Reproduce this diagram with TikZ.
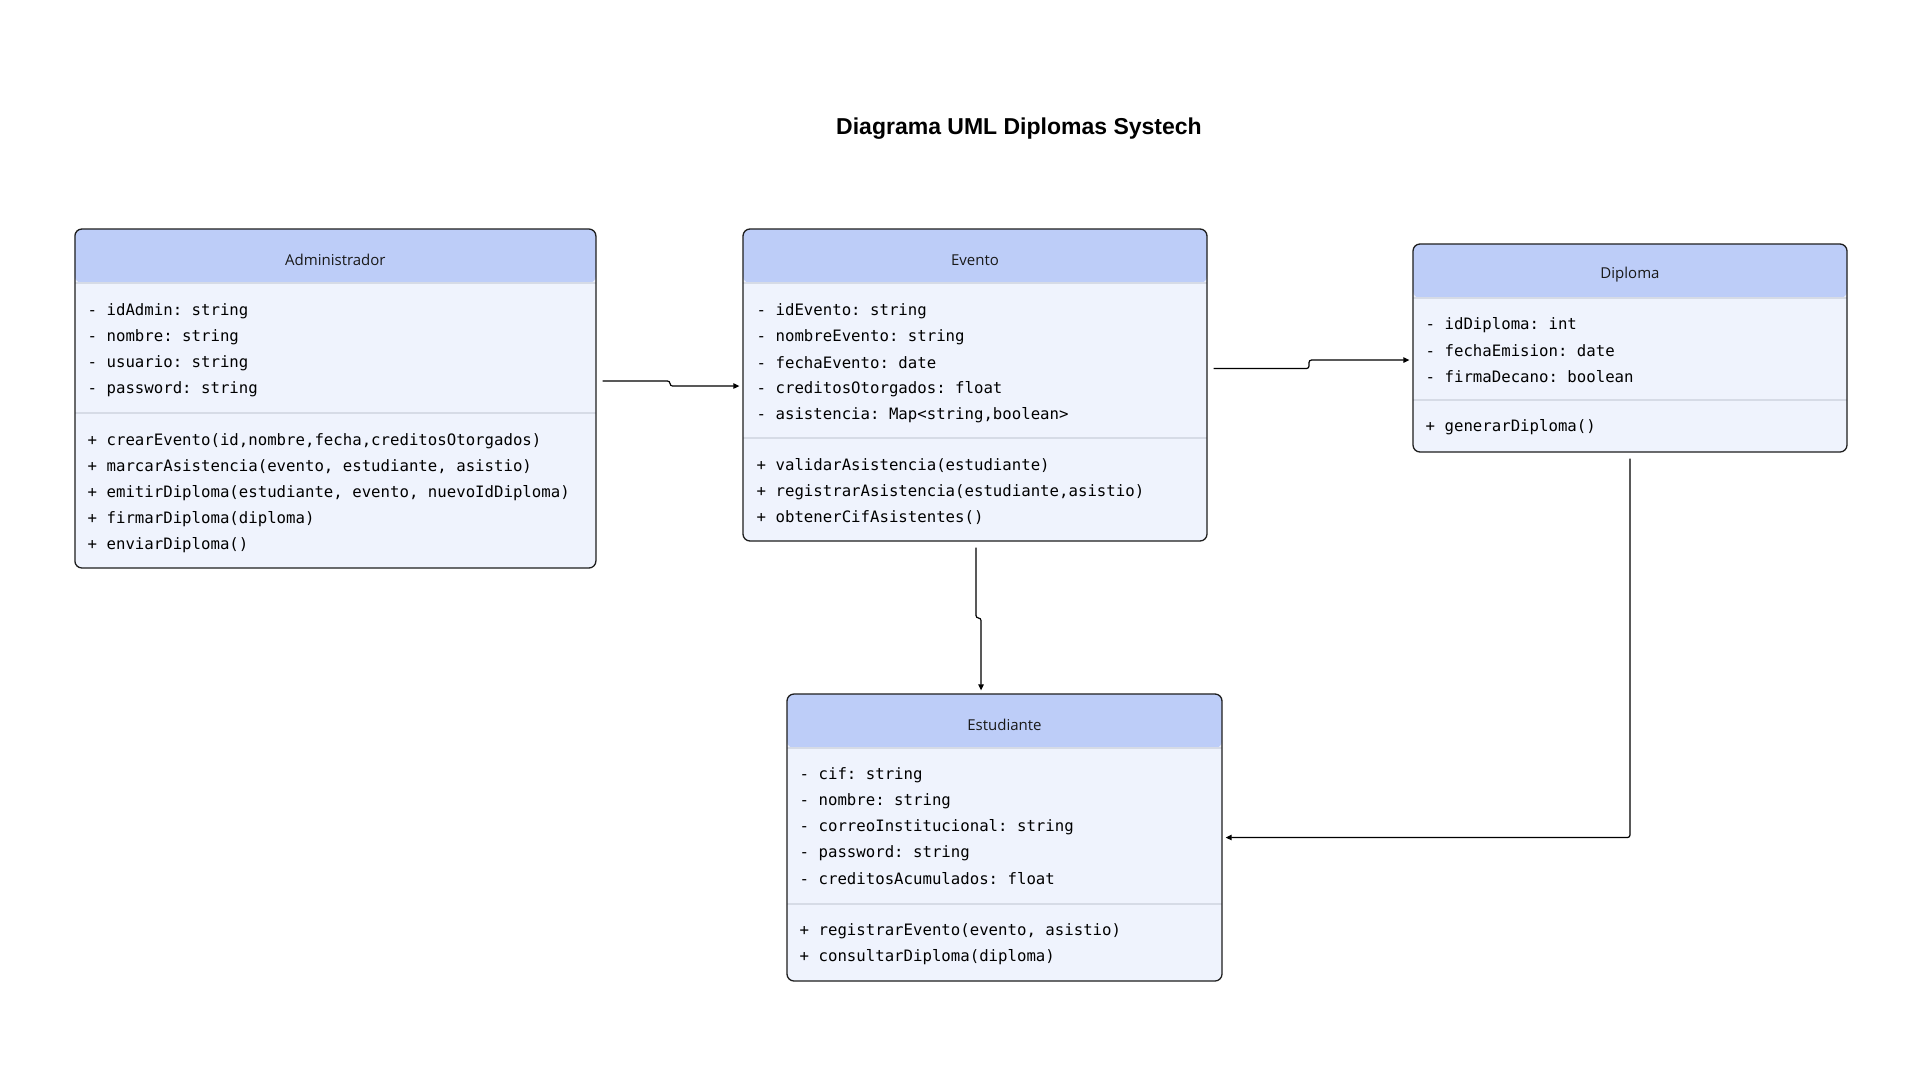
\documentclass[tikz,border=0pt]{standalone}
\usepackage{fontspec}
\setmainfont{Open Sans}
\setmonofont{DejaVu Sans Mono}
\newfontfamily\titlefont{Liberation Sans}
\usetikzlibrary{arrows.meta}
\definecolor{headblue}{RGB}{189,205,248}
\definecolor{bodyblue}{RGB}{239,243,253}
\definecolor{sepgray}{RGB}{214,219,230}
\definecolor{edgegray}{RGB}{30,30,30}
\tikzset{
  classbox/.style n args={2}{draw=edgegray, line width=1.3pt, rounded corners=7pt,
    fill=bodyblue, inner sep=0pt,
    path picture={
      \fill[headblue] (path picture bounding box.north west) rectangle
        ([yshift=-#1]path picture bounding box.north east);
      \draw[sepgray, line width=1.5pt] ([yshift=-#1]path picture bounding box.north west)
        -- ([yshift=-#1]path picture bounding box.north east);
      \draw[sepgray, line width=1.5pt] ([yshift=-#2]path picture bounding box.north west)
        -- ([yshift=-#2]path picture bounding box.north east);
    }},
  classname/.style={font=\fontsize{15}{17}\selectfont, text=black!90, inner sep=0pt},
  member/.style={anchor=west, font=\ttfamily\fontsize{15.7}{18}\selectfont, inner sep=0pt},
  link/.style={line width=1.2pt, rounded corners=2.5pt,
    -{Triangle[length=6pt,width=5.5pt]}, shorten >=3pt}
}
\begin{document}
\begin{tikzpicture}[x=1pt,y=-1pt]
    \useasboundingbox[fill=white] (0,0) rectangle (1920,1080);
    \node[font=\titlefont\bfseries\fontsize{23}{27}\selectfont] (title) at (1019,129) {Diagrama UML Diplomas Systech};
    % Administrador
    \node[classbox={54pt}{184pt}, minimum width=521pt, minimum height=339pt] (admin) at (335.4,398.5) {};
    \node[classname] (adminname) at (335.4,260) {Administrador};
    \foreach \txt [count=\i] in {{- idAdmin: string}, {- nombre: string}, {- usuario: string}, {- password: string}}
        \node[member] (adminattr\i) at (87.5,285+26*\i) {\txt};
    \foreach \txt [count=\i] in {{+ crearEvento(id,nombre,fecha,creditosOtorgados)},
        {+ marcarAsistencia(evento, estudiante, asistio)},
        {+ emitirDiploma(estudiante, evento, nuevoIdDiploma)},
        {+ firmarDiploma(diploma)}, {+ enviarDiploma()}}
        \node[member] (adminop\i) at (87.5,415+26*\i) {\txt};
    % Evento
    \node[classbox={54pt}{209pt}, minimum width=464pt, minimum height=312pt] (evento) at (975,385) {};
    \node[classname] (eventoname) at (975,260) {Evento};
    \foreach \txt [count=\i] in {{- idEvento: string}, {- nombreEvento: string}, {- fechaEvento: date},
        {- creditosOtorgados: float}, {- asistencia: Map<string,boolean>}}
        \node[member] (eventoattr\i) at (756.5,285+26*\i) {\txt};
    \foreach \txt [count=\i] in {{+ validarAsistencia(estudiante)},
        {+ registrarAsistencia(estudiante,asistio)}, {+ obtenerCifAsistentes()}}
        \node[member] (eventoop\i) at (756.5,440+26*\i) {\txt};
    % Diploma
    \node[classbox={54pt}{156pt}, minimum width=434pt, minimum height=208pt] (diploma) at (1630,348) {};
    \node[classname] (diplomaname) at (1630,275) {Diploma};
    \foreach \txt [count=\i] in {{- idDiploma: int}, {- fechaEmision: date}, {- firmaDecano: boolean}}
        \node[member] (diplomaattr\i) at (1425.5,299+26*\i) {\txt};
    \node[member] (diplomaop1) at (1425.5,427) {+ generarDiploma()};
    % Estudiante
    \node[classbox={54pt}{210pt}, minimum width=435pt, minimum height=287pt] (estud) at (1004.5,837.5) {};
    \node[classname] (estudname) at (1004.5,725) {Estudiante};
    \foreach \txt [count=\i] in {{- cif: string}, {- nombre: string}, {- correoInstitucional: string},
        {- password: string}, {- creditosAcumulados: float}}
        \node[member] (estudattr\i) at (799.5,749+26*\i) {\txt};
    \foreach \txt [count=\i] in {{+ registrarEvento(evento, asistio)}, {+ consultarDiploma(diploma)}}
        \node[member] (estudop\i) at (799.5,905+26*\i) {\txt};
    % relaciones
    \draw[link] ([xshift=6pt,yshift=17.5pt]admin.east) -- (670,381) -- (670,386) -- ([yshift=-1pt]evento.west);
    \draw[link] ([xshift=6pt,yshift=16.5pt]evento.east) -- (1309,368.5) -- (1309,360) -- ([yshift=-12pt]diploma.west);
    \draw[link] ([xshift=1pt,yshift=-6pt]evento.south) -- (976,618) -- (981,618) -- ([xshift=-23.5pt]estud.north);
    \draw[link] ([yshift=-6pt]diploma.south) |- (estud.east);
\end{tikzpicture}
\end{document}
